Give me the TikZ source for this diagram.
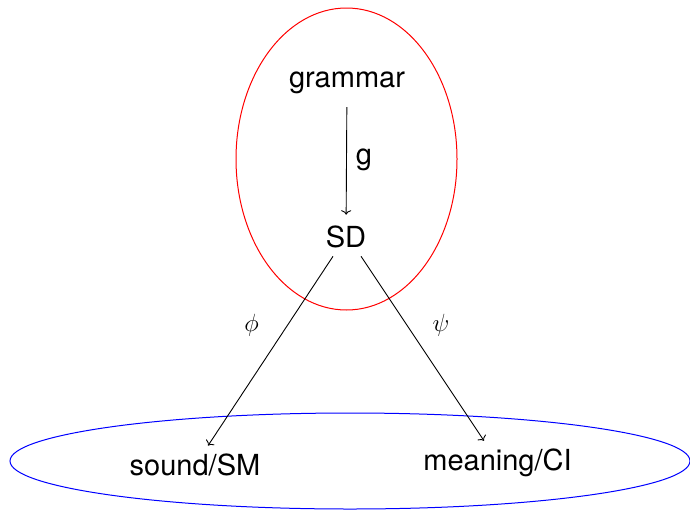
\documentclass[tikz,border=0pt]{standalone}
\usepackage{fontspec}
\setmainfont{TeX Gyre Heros}
\usetikzlibrary{arrows.meta}
\begin{document}
\begin{tikzpicture}[x=1pt,y=-1pt,
  lbl/.style={font=\fontsize{29}{34}\selectfont, inner sep=8pt},
  greek/.style={font=\fontsize{31}{34}\selectfont, inner sep=0pt},
  conn/.style={-{To[length=4.5pt,width=10pt]}, line width=0.9pt}]
\useasboundingbox (0,0) rectangle (690,509);
\draw[red, line width=1pt] (346.5,159) ellipse [x radius=110.5, y radius=151];
\draw[blue, line width=1pt] (350,461) ellipse [x radius=340, y radius=48];
\node[lbl] (grammar) at (347,83) {grammar};
\node[lbl] (SD) at (346,237) {SD};
\node[lbl] (sound) at (195,465) {sound/SM};
\node[lbl] (meaning) at (497.5,463) {meaning/CI};
\draw[conn, shorten <=5pt, shorten >=3pt] (grammar) -- node[lbl, right, inner sep=9pt] (g) {g} (SD);
\draw[conn] ([xshift=-13pt]SD.south) -- ([xshift=13pt]sound.north);
\draw[conn] ([xshift=15pt]SD.south) -- ([xshift=-13.5pt]meaning.north);
\node[greek] (phi) at (251.5,325) {$\phi$};
\node[greek] (psi) at (441,325) {$\psi$};
\end{tikzpicture}
\end{document}
